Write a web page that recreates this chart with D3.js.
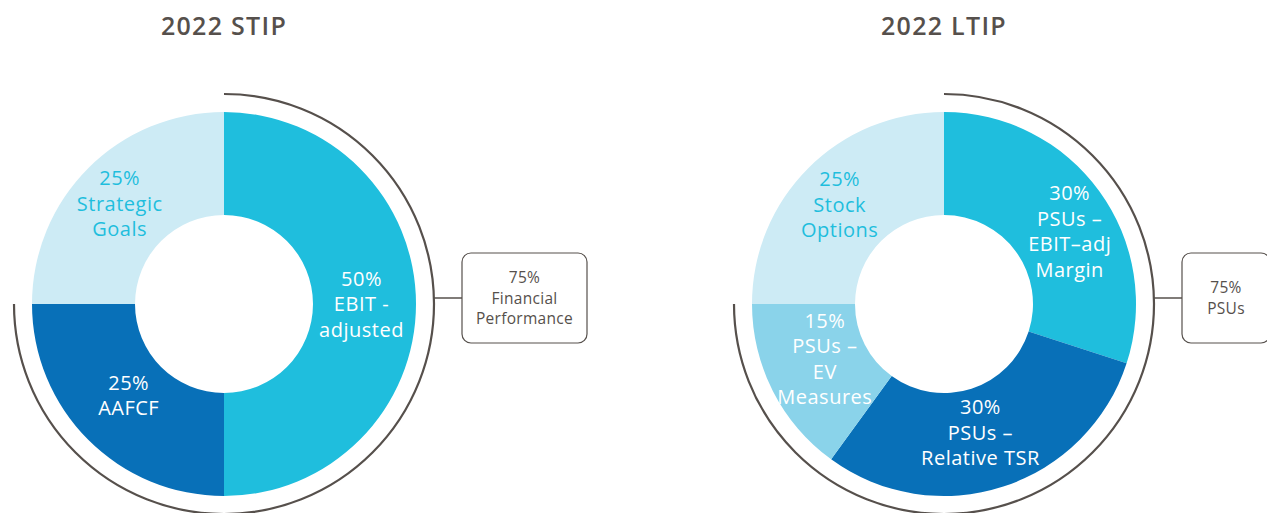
<!DOCTYPE html>
<html><head><meta charset="utf-8">
<script src="https://cdn.jsdelivr.net/npm/d3@7"></script>
<style>
body{margin:0;background:#fff;}
svg{display:block;font-family:"Open Sans",Lato,sans-serif;}
</style></head>
<body>
<svg id="c" width="1267" height="513"></svg>
<script>
// ---- data ----
const stipTitle = "2022 STIP";
const stipLabels = [["50%","EBIT -","adjusted"],["25%","AAFCF"],["25%","Strategic","Goals"]];
const stipValues = [50, 25, 25];
const stipKinds = ["cyan","dark","light"];
const stipBox = ["75%","Financial","Performance"];
const stipBracket = 75;

const ltipTitle = "2022 LTIP";
const ltipLabels = [["30%","PSUs –","EBIT–adj","Margin"],["30%","PSUs –","Relative TSR"],["15%","PSUs –","EV","Measures"],["25%","Stock","Options"]];
const ltipValues = [30, 30, 15, 25];
const ltipKinds = ["cyan","dark","mid","light"];
const ltipBox = ["75%","PSUs"];
const ltipBracket = 75;

const fillColor = {cyan:"#1fbedd", dark:"#0870b8", mid:"#8ad3ea", light:"#cdebf5"};
const textColor = {cyan:"#ffffff", dark:"#ffffff", mid:"#ffffff", light:"#1fbedd"};
const grey = "#56504c";

const svg = d3.select("#c");
const R = 192, r = 89, RB = 210;

function donut(cx, title, values, labels, kinds, boxLines, bracket, boxW, labelOffsets){
  const g = svg.append("g").attr("transform", `translate(${cx},304)`);
  svg.append("text").attr("x", cx).attr("y", 35).attr("text-anchor","middle")
    .attr("font-size", 25).attr("font-weight", 600).attr("letter-spacing", 1.3)
    .attr("fill", grey).text(title);
  const pie = d3.pie().sort(null).value(d => d);
  const arcs = pie(values);
  const arc = d3.arc().innerRadius(r).outerRadius(R);
  g.selectAll("path.seg").data(arcs).enter().append("path")
    .attr("class","seg").attr("d", arc).attr("fill", (d,i) => fillColor[kinds[i]]);
  const labArc = d3.arc().innerRadius(r).outerRadius(R);
  arcs.forEach((d,i) => {
    const [x,y] = labArc.centroid(d);
    const off = labelOffsets[i];
    const lines = labels[i];
    const lh = 25.5;
    const t = g.append("text").attr("text-anchor","middle").attr("font-size",20)
      .attr("font-weight",500).attr("letter-spacing",0.5)
      .attr("fill", textColor[kinds[i]]);
    lines.forEach((s,j) => {
      t.append("tspan").attr("x", x + off[0])
        .attr("y", y + off[1] + (j - (lines.length-1)/2)*lh + 7).text(s);
    });
  });
  // bracket arc
  const end = bracket/100 * 2*Math.PI;
  const p = d3.path();
  p.arc(0, 0, RB, -Math.PI/2, -Math.PI/2 + end, false);
  g.append("path").attr("d", p.toString()).attr("fill","none")
    .attr("stroke", grey).attr("stroke-width", 2.2);
  // connector & box
  const bx = 238, by = -6;
  g.append("line").attr("x1", Math.sqrt(RB*RB - by*by)).attr("x2", bx)
    .attr("y1", by).attr("y2", by).attr("stroke", grey).attr("stroke-width", 1.5);
  const bh = 90;
  g.append("rect").attr("x", bx).attr("y", by - bh/2).attr("width", boxW).attr("height", bh)
    .attr("rx", 9).attr("fill","#fff").attr("stroke", grey).attr("stroke-width", 1.2);
  const bt = g.append("text").attr("text-anchor","middle").attr("font-size",15.5)
    .attr("font-weight",500).attr("letter-spacing",0.3)
    .attr("fill", grey);
  boxLines.forEach((s,j) => {
    bt.append("tspan").attr("x", bx + boxW/2)
      .attr("y", by + (j - (boxLines.length-1)/2)*20.5 + 5.5).text(s);
  });
}

donut(224, stipTitle, stipValues, stipLabels, stipKinds, stipBox, stipBracket, 125,
  [[-3,0],[4,-8],[-5,-1]]);
donut(944, ltipTitle, ltipValues, ltipLabels, ltipKinds, ltipBox, ltipBracket, 88,
  [[12,10],[-7,-5],[6,-9],[-5,0]]);
</script>
</body></html>
